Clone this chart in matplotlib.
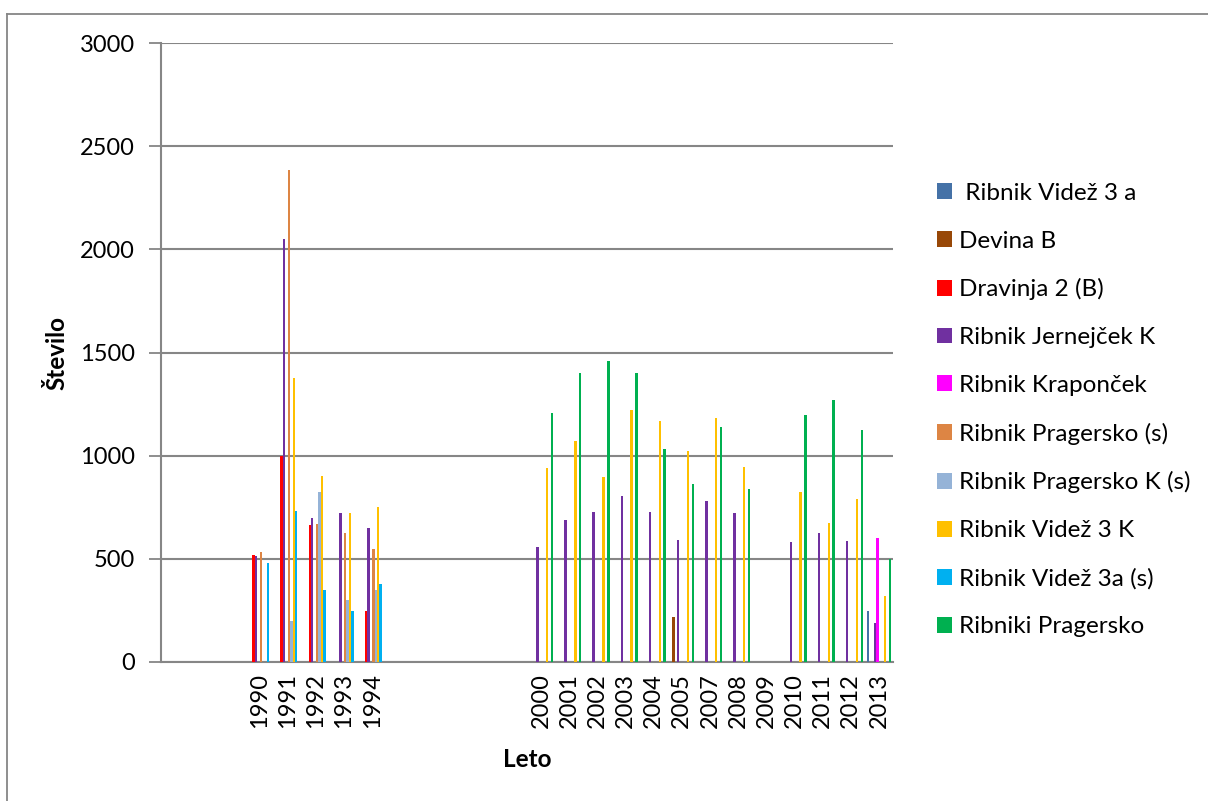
"""Stevilo po letih za posamezne ribnike (stolpcni diagram)."""

import matplotlib.pyplot as plt
import numpy as np
from matplotlib.lines import Line2D

plt.rcParams['font.family'] = ['Lato', 'DejaVu Sans']

# kategorije na osi x (prazne so brez podatkov)
KATEGORIJE = ['', '', '', '1990', '1991', '1992', '1993', '1994',
              '', '', '', '', '',
              '2000', '2001', '2002', '2003', '2004', '2005', '2007',
              '2008', '2009', '2010', '2011', '2012', '2013']

VIDEZ_3_A = {'2013': 247}
DEVINA_B = {'2005': 218}
DRAVINJA_2_B = {'1990': 519, '1991': 1000, '1992': 666, '1994': 249}
JERNEJCEK_K = {'1990': 515, '1991': 2048, '1992': 698, '1993': 724,
               '1994': 650, '2000': 557, '2001': 688, '2002': 729,
               '2003': 805, '2004': 729, '2005': 593, '2007': 779,
               '2008': 722, '2010': 580, '2011': 624, '2012': 588,
               '2013': 188}
KRAPONCEK = {'2013': 601}
PRAGERSKO_S = {'1990': 533, '1991': 2384, '1992': 671, '1993': 626,
               '1994': 549}
PRAGERSKO_K_S = {'1991': 200, '1992': 823, '1993': 299, '1994': 349}
VIDEZ_3_K = {'1991': 1377, '1992': 900, '1993': 724, '1994': 750,
             '2000': 940, '2001': 1070, '2002': 898, '2003': 1220,
             '2004': 1168, '2005': 1023, '2007': 1183, '2008': 944,
             '2010': 824, '2011': 674, '2012': 789, '2013': 318}
VIDEZ_3A_S = {'1990': 480, '1991': 730, '1992': 349, '1993': 249,
              '1994': 380}
RIBNIKI_PRAGERSKO = {'2000': 1207, '2001': 1402, '2002': 1459,
                     '2003': 1401, '2004': 1032, '2005': 864, '2007': 1139,
                     '2008': 839, '2010': 1199, '2011': 1268, '2012': 1124,
                     '2013': 500}

SERIJE = [
    (' Ribnik Videž 3 a', VIDEZ_3_A, '#4572A7'),
    ('Devina B', DEVINA_B, '#984807'),
    ('Dravinja 2 (B)', DRAVINJA_2_B, '#FF0000'),
    ('Ribnik Jernejček K', JERNEJCEK_K, '#7030A0'),
    ('Ribnik Kraponček', KRAPONCEK, '#FF00FF'),
    ('Ribnik Pragersko (s)', PRAGERSKO_S, '#DD8544'),
    ('Ribnik Pragersko K (s)', PRAGERSKO_K_S, '#95B3D7'),
    ('Ribnik Videž 3 K', VIDEZ_3_K, '#FFC000'),
    ('Ribnik Videž 3a (s)', VIDEZ_3A_S, '#00B0F0'),
    ('Ribniki Pragersko', RIBNIKI_PRAGERSKO, '#00B050'),
]

W, H = 1208, 801
fig = plt.figure(figsize=(W / 100, H / 100), dpi=100)
# okvir grafikona (vidna sta le zgornji in levi rob)
okvir = dict(transform=fig.transFigure, color='#868686', linewidth=1.3)
fig.lines.append(Line2D([7 / W, 1.0], [1 - 14 / H] * 2, **okvir))
fig.lines.append(Line2D([7 / W] * 2, [0, 1 - 14 / H], **okvir))

ax = fig.add_axes([161 / W, (H - 662) / H, (893 - 161) / W, (662 - 43) / H])

n = len(SERIJE)
sirina = 1 / (n + 1.5)
x = np.arange(len(KATEGORIJE))
for j, (ime, podatki, barva) in enumerate(SERIJE):
    vrednosti = [podatki.get(k, np.nan) for k in KATEGORIJE]
    ax.bar(x + (j - (n - 1) / 2) * sirina, vrednosti, width=sirina,
           color=barva, label=ime, zorder=3)

ax.set_xlim(-0.5, len(KATEGORIJE) - 0.5)
ax.set_ylim(0, 3000)
ax.set_yticks(range(0, 3001, 500))
ax.set_xticks(x)
ax.set_xticklabels(KATEGORIJE, rotation=90, fontsize=17)
ax.tick_params(axis='x', length=0, pad=8)
ax.tick_params(axis='y', length=9, width=1.3, color='#868686',
               labelsize=17, pad=10)
ax.grid(axis='y', color='#868686', linewidth=1.5, zorder=0)
for s in ('top', 'right'):
    ax.spines[s].set_visible(False)
for s in ('left', 'bottom'):
    ax.spines[s].set_color('#868686')
    ax.spines[s].set_linewidth(1.5)

ax.set_ylabel('Število', fontsize=17.5, fontweight='bold', labelpad=8)
ax.set_xlabel('Leto', fontsize=17.5, fontweight='bold', labelpad=14)

fig.legend(loc='center left', bbox_to_anchor=(915 / W, 1 - 410 / H),
           frameon=False, fontsize=17.5, handlelength=0.62,
           handleheight=0.62, handletextpad=0.3, labelspacing=1.1)

fig.savefig('out.png', dpi=100)
